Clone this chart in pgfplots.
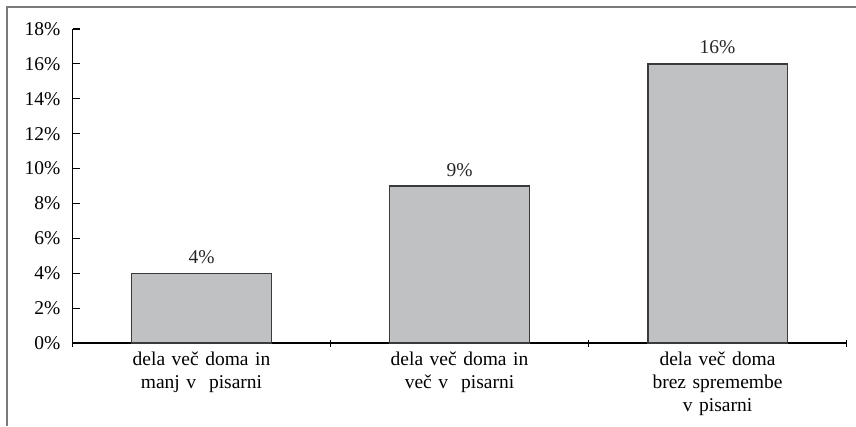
\documentclass[border=0pt]{standalone}
\usepackage{pgfplots}
\pgfplotsset{compat=1.18}
\usepackage{fontspec}
\setmainfont{Liberation Serif}
\definecolor{barfill}{HTML}{C0C1C3}
\definecolor{baredge}{HTML}{3A3A3A}
\definecolor{framec}{HTML}{7A7A7A}
\begin{document}
\fontsize{19.5bp}{23bp}\selectfont
\begin{tikzpicture}[x=1bp,y=1bp]
\useasboundingbox (0,0) rectangle (856,426);
\draw[framec, line width=1.3bp] (7,0) -- (7,419) -- (856,419);
\begin{axis}[
  at={(72.5bp,83bp)}, anchor=origin,
  scale only axis, width=774bp, height=314bp,
  xmin=0, xmax=3, ymin=0, ymax=18,
  axis x line=bottom, axis y line=left,
  axis line style={-, black, line width=1.1bp},
  ytick={0,2,...,18},
  yticklabel={\pgfmathprintnumber{\tick}\%},
  /pgf/number format/assume math mode=true,
  ytick align=inside,
  major tick length=7bp,
  tick style={black, line width=1.1bp},
  xtick={0,1,2,3}, xticklabels={},
  xtick align=center,
  extra x ticks={0.5,1.5,2.5},
  extra x tick labels={dela več doma in\\manj v~ pisarni, dela več doma in\\več v~ pisarni, dela več doma\\brez spremembe\\v pisarni},
  extra x tick style={major tick length=0pt},
  xticklabel style={align=center, text width=220bp, font=\fontsize{19.5bp}{23bp}\selectfont, inner sep=0pt, yshift=-9bp},
  yticklabel style={font=\fontsize{19.5bp}{23bp}\selectfont, inner sep=0pt, xshift=-12bp},
  nodes near coords={\pgfmathprintnumber{\pgfplotspointmeta}\%},
  every node near coord/.append style={font=\fontsize{19.5bp}{23bp}\selectfont, black!85, inner sep=0pt, yshift=9bp},
  clip=false,
]
\addplot[ybar, bar width=0.54, fill=barfill, draw=baredge, line width=1.3bp] coordinates {(0.5,4) (1.5,9) (2.5,16)};
\end{axis}
\end{tikzpicture}
\end{document}
